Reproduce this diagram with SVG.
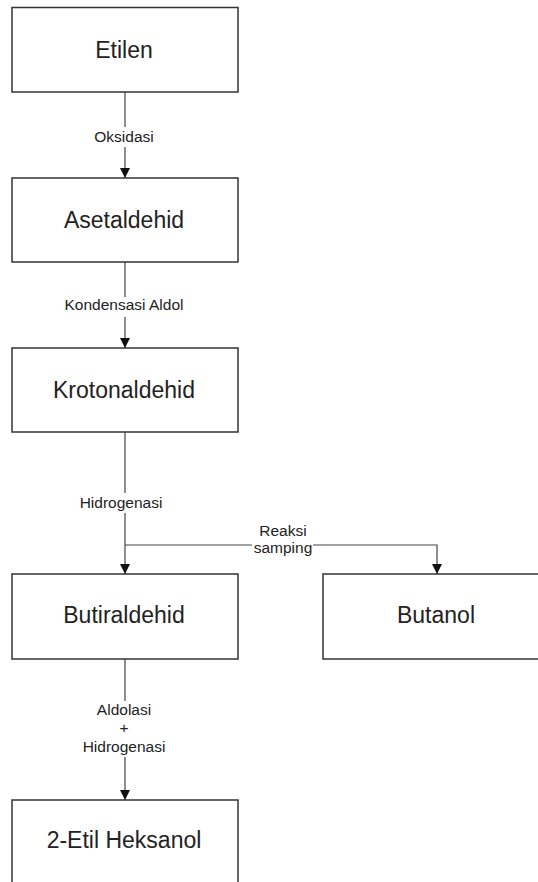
<svg xmlns="http://www.w3.org/2000/svg" width="538" height="882" viewBox="0 0 538 882">
<defs>
<marker id="arr" viewBox="0 0 10 10" refX="10" refY="5" markerWidth="10" markerHeight="10" markerUnits="userSpaceOnUse" orient="auto">
<path d="M0,0 L10,5 L0,10 Z" fill="#111"/>
</marker>
<style>
.box{fill:#fff;stroke:#333;stroke-width:1.5}
.t{font-family:"Liberation Sans",Arial,sans-serif;font-size:23px;fill:#222;text-anchor:middle}
.l{font-family:"Liberation Sans",Arial,sans-serif;font-size:15.5px;fill:#222;text-anchor:middle}
.c{fill:none;stroke:#444;stroke-width:1.2}
</style>
</defs>
<rect width="538" height="882" fill="#fff"/>
<g id="connectors">
<line class="c" x1="125" y1="92" x2="125" y2="127"/>
<line class="c" x1="125" y1="147" x2="125" y2="178" marker-end="url(#arr)"/>
<text class="l" x="124" y="141.5">Oksidasi</text>
<line class="c" x1="125" y1="262" x2="125" y2="297"/>
<line class="c" x1="125" y1="317" x2="125" y2="348" marker-end="url(#arr)"/>
<text class="l" x="124" y="310">Kondensasi Aldol</text>
<line class="c" x1="125" y1="432" x2="125" y2="493"/>
<line class="c" x1="125" y1="513" x2="125" y2="574" marker-end="url(#arr)"/>
<text class="l" x="121" y="508">Hidrogenasi</text>
<polyline class="c" points="125,545 252,545"/>
<polyline class="c" points="313,545 437,545 437,574" marker-end="url(#arr)"/>
<text class="l" x="283" y="536">Reaksi</text>
<text class="l" x="283" y="553">samping</text>
<line class="c" x1="125" y1="659" x2="125" y2="701"/>
<line class="c" x1="125" y1="757" x2="125" y2="800" marker-end="url(#arr)"/>
<text class="l" x="124" y="715">Aldolasi</text>
<text class="l" x="124" y="733">+</text>
<text class="l" x="124" y="752">Hidrogenasi</text>
</g>
<g id="etilen">
<rect class="box" x="12" y="7.5" width="226" height="84.5"/>
<text class="t" x="124" y="58">Etilen</text>
</g>
<g id="asetaldehid">
<rect class="box" x="12" y="178" width="226" height="84"/>
<text class="t" x="124" y="228">Asetaldehid</text>
</g>
<g id="krotonaldehid">
<rect class="box" x="12" y="348" width="226" height="84"/>
<text class="t" x="124" y="398">Krotonaldehid</text>
</g>
<g id="butiraldehid">
<rect class="box" x="12" y="574" width="226" height="85"/>
<text class="t" x="124" y="623">Butiraldehid</text>
</g>
<g id="butanol">
<rect class="box" x="323" y="574" width="230" height="85"/>
<text class="t" x="436" y="623">Butanol</text>
</g>
<g id="etil-heksanol">
<rect class="box" x="12" y="800" width="226" height="90"/>
<text class="t" x="124" y="848">2-Etil Heksanol</text>
</g>
</svg>
